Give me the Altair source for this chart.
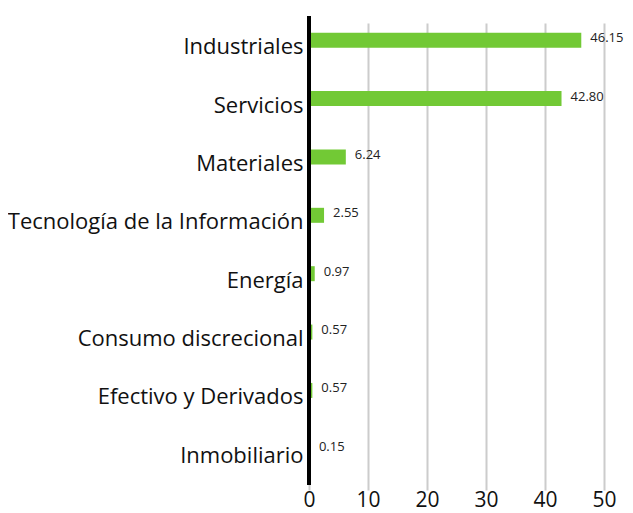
import altair as alt
import pandas as pd

categories = ["Industriales", "Servicios", "Materiales", "Tecnología de la Información",
              "Energía", "Consumo discrecional", "Efectivo y Derivados", "Inmobiliario"]
values = [46.15, 42.80, 6.24, 2.55, 0.97, 0.57, 0.57, 0.15]

df = pd.DataFrame({"cat": categories, "val": values})
df["label"] = [f"{v:.2f}" for v in values]

FONT = "Open Sans"
GREEN = "#72C935"

y_enc = alt.Y("cat:N", sort=categories, title=None,
              scale=alt.Scale(paddingInner=0, paddingOuter=0, range=[-5, 462]),
              axis=alt.Axis(domain=False, ticks=False,
                            labelFontSize=22, labelColor="#111", labelFont=FONT,
                            labelPadding=6, labelOffset=7, grid=False, labelLimit=400))
x_enc = alt.X("val:Q", title=None,
              scale=alt.Scale(domain=[0, 50], nice=False),
              axis=alt.Axis(values=[0, 10, 20, 30, 40, 50], domain=False, ticks=False,
                            grid=True, gridColor="#cccccc", gridWidth=2, labelFlush=False,
                            labelFontSize=21, labelColor="#111", labelFont=FONT,
                            labelPadding=4))

bars = alt.Chart(df).mark_bar(color=GREEN, size=15).encode(x=x_enc, y=y_enc)
text = alt.Chart(df).mark_text(align="left", dx=9, dy=-2, fontSize=13, color="#222", font=FONT).encode(
    x="val:Q", y=alt.Y("cat:N", sort=categories), text="label:N")
zero_line = alt.Chart(df).mark_rule(color="black", strokeWidth=4).encode(
    x=alt.datum(0), y=alt.value(0), y2=alt.value(469))

chart = (bars + text + zero_line).properties(
    width=295, height=469,
    autosize=alt.AutoSizeParams(type="none"),
    padding={"left": 301, "top": 8, "right": 21, "bottom": 28},
).configure_view(stroke=None)
chart.save("out.html", embed_options={"renderer": "svg", "actions": False})
